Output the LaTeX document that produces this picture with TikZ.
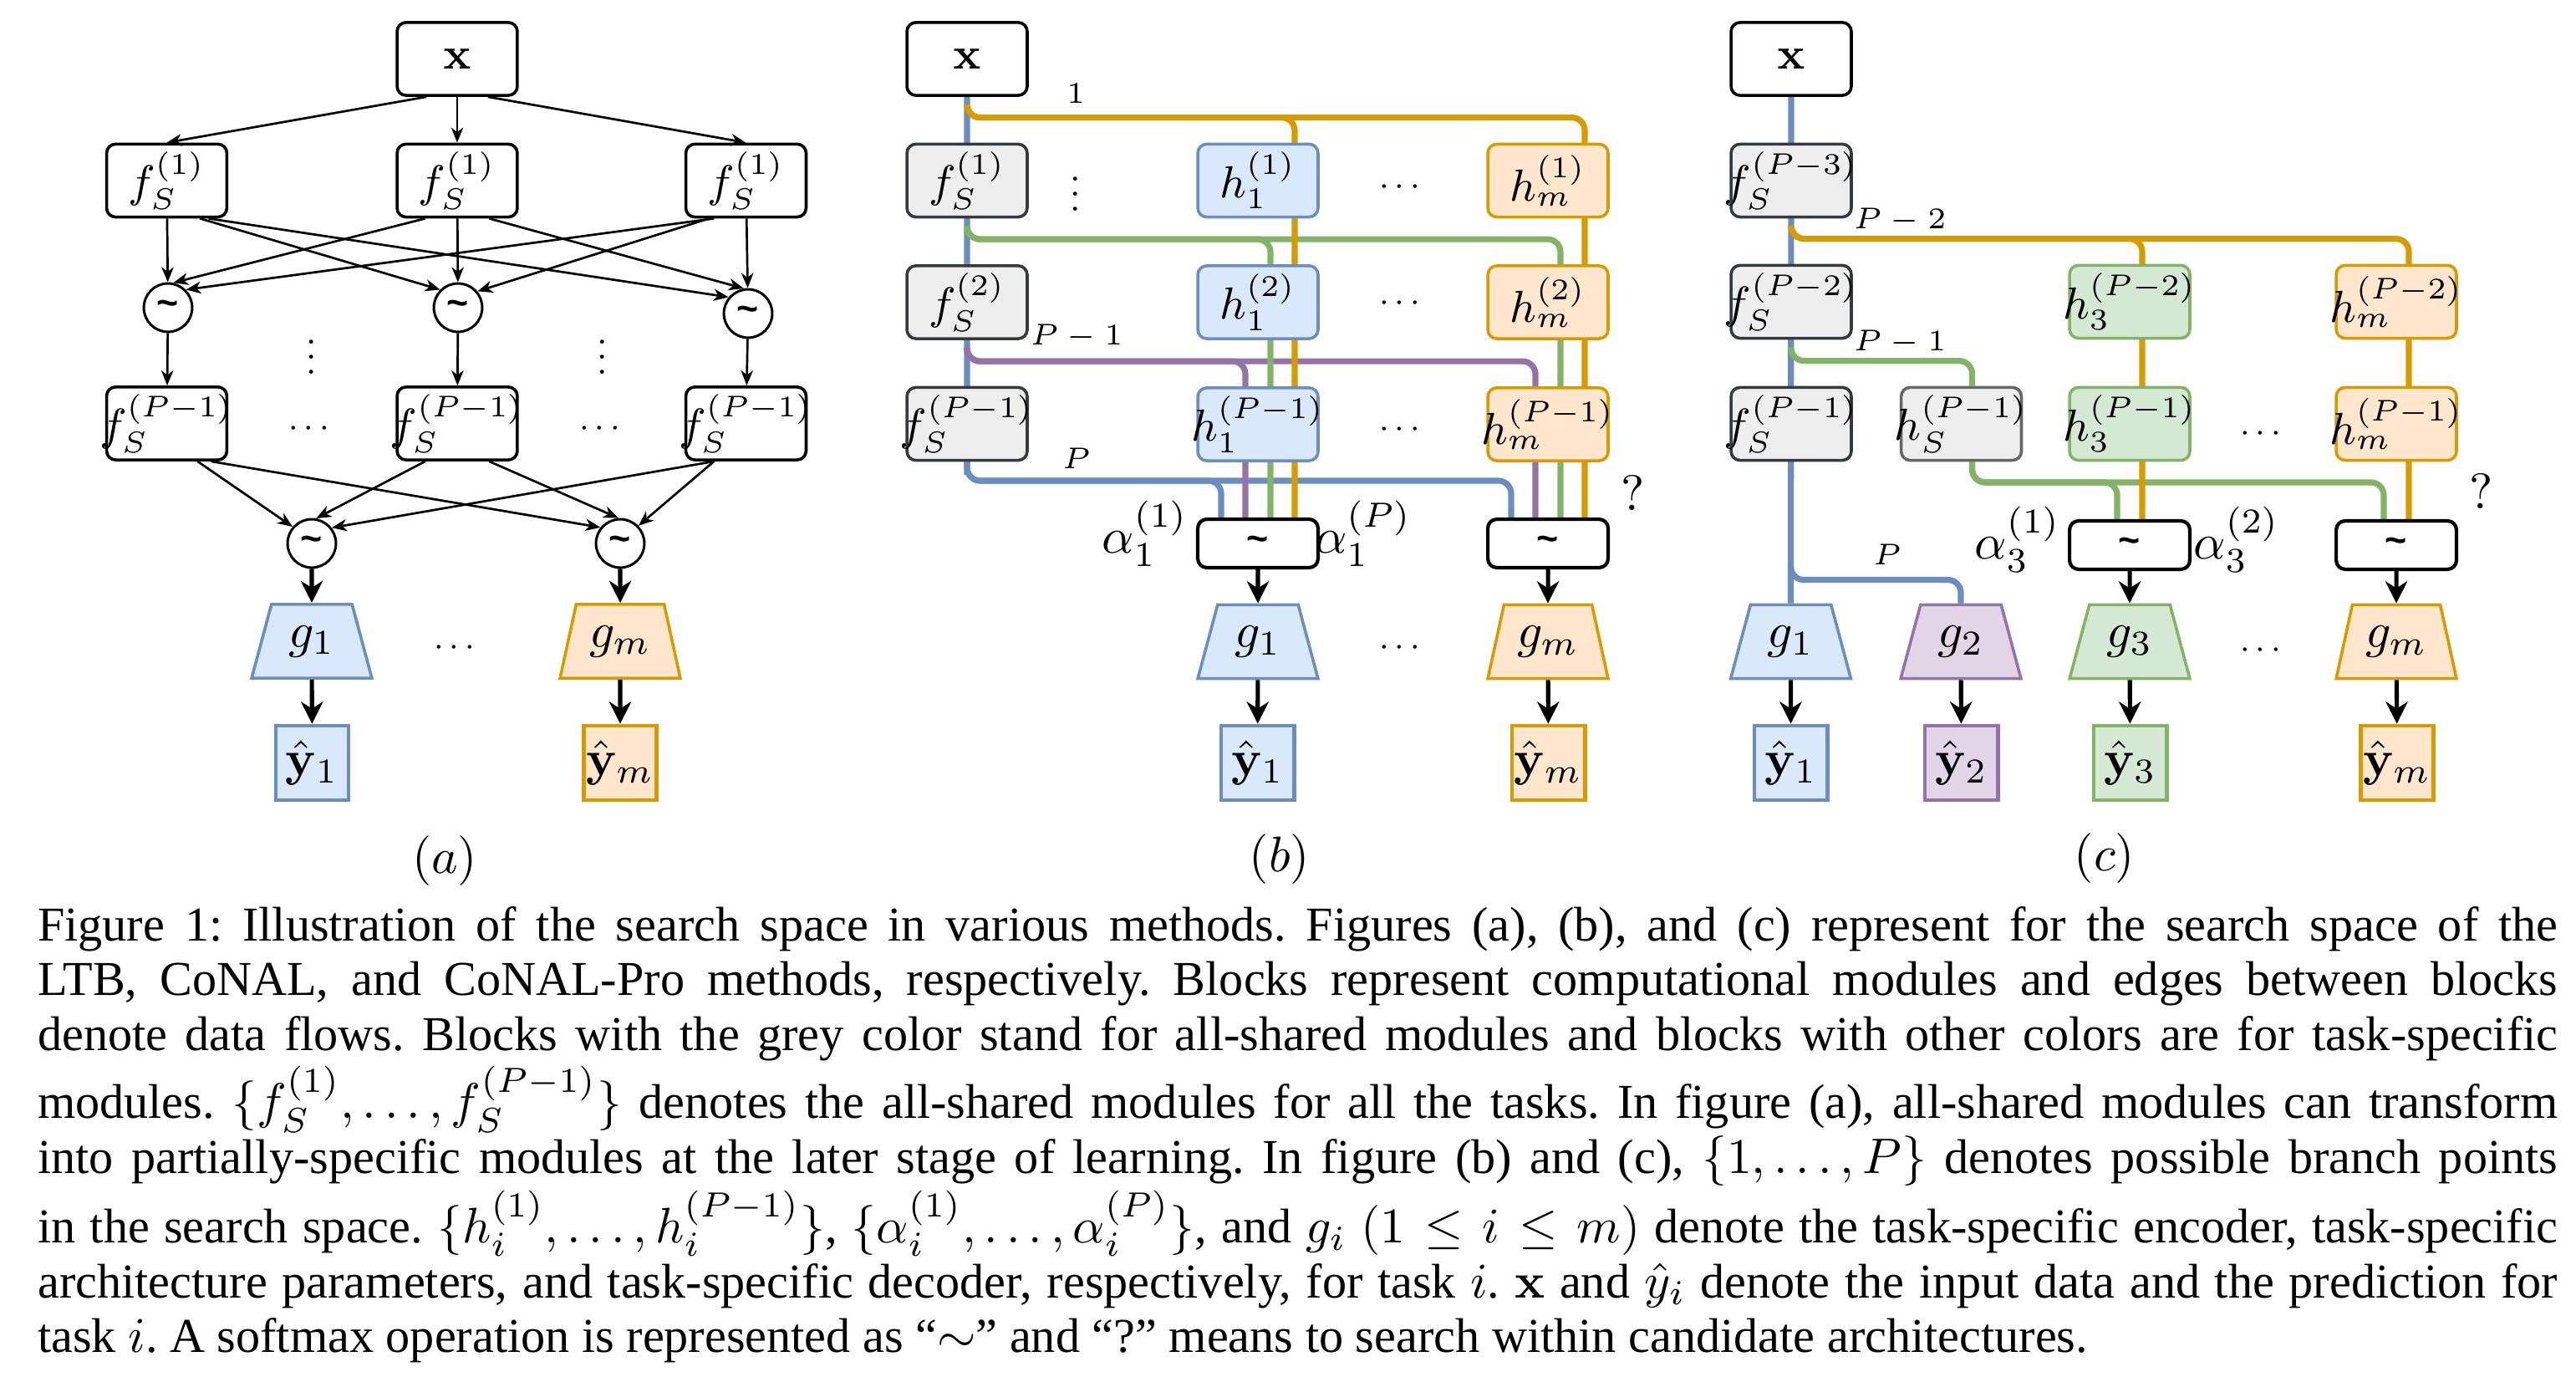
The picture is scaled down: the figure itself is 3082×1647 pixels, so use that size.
\documentclass[tikz,border=0pt]{standalone}
\usepackage[no-math]{fontspec}
\usepackage{amsmath,amssymb}
\usepackage{graphicx}
\usepackage{tikz}
\usetikzlibrary{arrows.meta,calc,backgrounds,shapes.geometric}
\newfontfamily\capfont[Ligatures=TeX]{Liberation Serif}
\newfontfamily\arialfont{Liberation Sans}
\definecolor{bluef}{HTML}{DAE8FC}
\definecolor{blued}{HTML}{6C8EBF}
\definecolor{orgf}{HTML}{FFE6CC}
\definecolor{orgd}{HTML}{D79B00}
\definecolor{grnf}{HTML}{D5E8D4}
\definecolor{grnd}{HTML}{82B366}
\definecolor{purf}{HTML}{E1D5E7}
\definecolor{purd}{HTML}{9673A6}
\definecolor{gryf}{HTML}{EEEEEE}
\definecolor{gryd}{HTML}{36393D}
\definecolor{gryl}{HTML}{666666}
\newcommand{\smxglyph}{{\arialfont\bfseries\fontsize{7.5}{8}\selectfont\textasciitilde}}
\newcommand{\vdt}{\scalebox{0.75}{$\vdots$}}
\newcommand{\hdt}{\scalebox{0.7}{$\cdots$}}
\newcommand{\boxlbl}[1]{\makebox[0pt]{$#1$}}

\begin{document}
\begin{tikzpicture}[
  x=0.1675pt, y=-0.1675pt,
  box/.style={draw,rounded corners=1.8pt,line width=0.6pt,minimum width=24.1pt,minimum height=14.6pt,inner sep=0pt,font=\fontsize{8.8}{10}\selectfont},
  plain/.style={box,fill=white},
  shared/.style={box,fill=gryf,draw=gryd},
  sharedl/.style={box,fill=gryf,draw=gryl},
  cblue/.style={fill=bluef,draw=blued},
  corg/.style={fill=orgf,draw=orgd},
  cgrn/.style={fill=grnf,draw=grnd},
  cpur/.style={fill=purf,draw=purd},
  sfm/.style={draw,rounded corners=1.8pt,line width=0.7pt,minimum width=24.1pt,minimum height=9.7pt,inner sep=0pt,fill=white},
  smc/.style={draw,circle,line width=0.5pt,minimum size=9.7pt,inner sep=0pt,fill=white},
  dec/.style={draw,trapezium,trapezium angle=70,trapezium stretches=true,minimum width=24.1pt,minimum height=14.8pt,inner sep=0pt,line width=0.6pt},
  outb/.style={draw,line width=0.8pt,minimum width=14.6pt,minimum height=14.9pt,inner sep=0pt},
  lbl/.style={inner sep=0pt,font=\fontsize{6.5}{7}\selectfont},
  bus/.style={line width=1.2pt,rounded corners=2.6pt},
  thn/.style={-{Stealth[length=3pt,width=2.4pt,inset=0.9pt]},line width=0.45pt},
  thk/.style={-{Stealth[length=4.4pt,width=4.4pt,inset=1.4pt]},line width=0.85pt},
]
\useasboundingbox (0,0) rectangle (3082,1647);

% (a)
\node[plain] (xa) at (547,70.5) {\boxlbl{\mathbf{x}}};
\node[plain] (fa1L) at (199.5,216) {\boxlbl{f_S^{(1)}}};
\node[plain] (fa1M) at (547,216) {\boxlbl{f_S^{(1)}}};
\node[plain] (fa1R) at (892.5,216) {\boxlbl{f_S^{(1)}}};
\node[smc] (ta1L) at (201,368) {\smxglyph};
\node[smc] (ta1M) at (548,368) {\smxglyph};
\node[smc] (ta1R) at (895,375) {\smxglyph};
\node[inner sep=0pt] (va1) at (373,414) {\vdt};
\node[inner sep=0pt] (va2) at (721,414) {\vdt};
\node[plain] (faPL) at (199.5,506.5) {\boxlbl{f_S^{(P-1)}}};
\node[plain] (faPM) at (547,506.5) {\boxlbl{f_S^{(P-1)}}};
\node[plain] (faPR) at (892.5,506.5) {\boxlbl{f_S^{(P-1)}}};
\node[inner sep=0pt] (da1) at (373,513) {\hdt};
\node[inner sep=0pt] (da2) at (721,513) {\hdt};
\node[smc] (ta2L) at (373,650) {\smxglyph};
\node[smc] (ta2R) at (742,650) {\smxglyph};
\node[dec,cblue] (ga1) at (373,767) {$g_1$};
\node[dec,corg] (gam) at (742,767) {$g_m$};
\node[inner sep=0pt] (da3) at (547,775) {\hdt};
\node[outb,cblue] (ya1) at (373.5,912.5) {$\hat{\mathbf{y}}_1$};
\node[outb,corg] (yam) at (742,912.5) {$\hat{\mathbf{y}}_m$};
\node (la) at (532,1030) {$(a)$};

\draw[thn] ($(xa.south west)!.25!(xa.south east)$) -- (fa1L.north);
\draw[thn] (xa) -- (fa1M);
\draw[thn] ($(xa.south west)!.75!(xa.south east)$) -- (fa1R.north);
\draw[thn] (fa1L) -- (ta1L);
\draw[thn] ($(fa1L.south west)!.77!(fa1L.south east)$) -- (ta1M.135);
\draw[thn] ($(fa1L.south west)!.84!(fa1L.south east)$) -- (ta1R.140);
\draw[thn] ($(fa1M.south west)!.24!(fa1M.south east)$) -- (ta1L.78);
\draw[thn] (fa1M) -- (ta1M);
\draw[thn] ($(fa1M.south west)!.76!(fa1M.south east)$) -- (ta1R.100);
\draw[thn] ($(fa1R.south west)!.24!(fa1R.south east)$) -- (ta1L.45);
\draw[thn] ($(fa1R.south west)!.2!(fa1R.south east)$) -- (ta1M.40);
\draw[thn] (fa1R) -- (ta1R);
\draw[thn] (ta1L) -- (faPL);
\draw[thn] (ta1M) -- (faPM);
\draw[thn] (ta1R) -- (faPR);
\draw[thn] ($(faPL.south west)!.75!(faPL.south east)$) -- (ta2L.139);
\draw[thn] ($(faPL.south west)!.86!(faPL.south east)$) -- (ta2R.141);
\draw[thn] ($(faPM.south west)!.24!(faPM.south east)$) -- (ta2L.80);
\draw[thn] ($(faPM.south west)!.76!(faPM.south east)$) -- (ta2R.94);
\draw[thn] ($(faPR.south west)!.24!(faPR.south east)$) -- (ta2L.38);
\draw[thn] ($(faPR.south west)!.24!(faPR.south east)$) -- (ta2R.44);
\draw[thk] (ta2L) -- (ga1);
\draw[thk] (ga1) -- (ya1);
\draw[thk] (ta2R) -- (gam);
\draw[thk] (gam) -- (yam);

% (b)
\node[plain] (xb) at (1157,70.5) {\boxlbl{\mathbf{x}}};
\node[shared] (fb1) at (1157,216) {\boxlbl{f_S^{(1)}}};
\node[shared] (fb2) at (1157,361.5) {\boxlbl{f_S^{(2)}}};
\node[shared] (fbP) at (1157,507) {\boxlbl{f_S^{(P-1)}}};
\node[inner sep=0pt] (vb) at (1287,219) {\vdt};
\node[box,cblue] (hb11) at (1505,216) {\boxlbl{h_1^{(1)}}};
\node[box,cblue] (hb12) at (1505,361.5) {\boxlbl{h_1^{(2)}}};
\node[box,cblue] (hb1P) at (1505,507.5) {\boxlbl{h_1^{(P-1)}}};
\node[inner sep=0pt] (db1) at (1678,224) {\hdt};
\node[inner sep=0pt] (db2) at (1678,363) {\hdt};
\node[inner sep=0pt] (db3) at (1678,514) {\hdt};
\node[box,corg] (hbm1) at (1852,216) {\boxlbl{h_m^{(1)}}};
\node[box,corg] (hbm2) at (1852,361.5) {\boxlbl{h_m^{(2)}}};
\node[box,corg] (hbmP) at (1852,507.5) {\boxlbl{h_m^{(P-1)}}};
\node[lbl] (lb1) at (1287,112) {$1$};
\node[lbl] (lb2) at (1288,403) {$P-1$};
\node[lbl] (lb3) at (1288,548) {$P$};
\node[sfm] (sb1) at (1505,650) {\smxglyph};
\node[sfm] (sbm) at (1852,650) {\smxglyph};
\node[inner sep=0pt] (ab1) at (1370,638) {$\alpha_1^{(1)}$};
\node[inner sep=0pt] (ab2) at (1631,638) {$\alpha_1^{(P)}$};
\node[inner sep=0pt] (qb) at (1954,590) {$?$};
\node[dec,cblue] (gb1) at (1505,767.5) {$g_1$};
\node[dec,corg] (gbm) at (1852,767.5) {$g_m$};
\node[inner sep=0pt] (db4) at (1678,775) {\hdt};
\node[outb,cblue] (yb1) at (1504.5,912.5) {$\hat{\mathbf{y}}_1$};
\node[outb,corg] (ybm) at (1852.5,912.5) {$\hat{\mathbf{y}}_m$};
\node (lb) at (1531,1028) {$(b)$};

\begin{scope}[on background layer]
\draw[bus,blued] (xb.south) -- (fbP.south) |- ($(sb1.north)+(-44,-44)$) -- ($(sb1.north)+(-44,0)$);
\draw[bus,blued] (fbP.south) |- ($(sbm.north)+(-44,-44)$) -- ($(sbm.north)+(-44,0)$);
\draw[bus,purd] ($(fb2.south)+(0,9)$) |- ($(hb1P.north)+(-15,-30)$) -- ($(sb1.north)+(-15,0)$);
\draw[bus,purd] ($(fb2.south)+(0,9)$) |- ($(hbmP.north)+(-15,-30)$) -- ($(sbm.north)+(-15,0)$);
\draw[bus,grnd] ($(fb1.south)+(0,9)$) |- ($(hb12.north)+(15,-30)$) -- ($(sb1.north)+(15,0)$);
\draw[bus,grnd] ($(fb1.south)+(0,9)$) |- ($(hbm2.north)+(15,-30)$) -- ($(sbm.north)+(15,0)$);
\draw[bus,orgd] ($(xb.south)+(0,9)$) |- ($(hb11.north)+(44,-30)$) -- ($(sb1.north)+(44,0)$);
\draw[bus,orgd] ($(xb.south)+(0,9)$) |- ($(hbm1.north)+(44,-30)$) -- ($(sbm.north)+(44,0)$);
\end{scope}
\draw[thk] (sb1) -- (gb1);
\draw[thk] (gb1) -- (yb1);
\draw[thk] (sbm) -- (gbm);
\draw[thk] (gbm) -- (ybm);

% (c)
\node[plain] (xc) at (2143,70.5) {\boxlbl{\mathbf{x}}};
\node[shared] (fc3) at (2143,216) {\boxlbl{f_S^{(P-3)}}};
\node[shared] (fc2) at (2143,361) {\boxlbl{f_S^{(P-2)}}};
\node[shared] (fc1) at (2143,507) {\boxlbl{f_S^{(P-1)}}};
\node[sharedl] (hcS) at (2346.5,507) {\boxlbl{h_S^{(P-1)}}};
\node[box,cgrn] (hc3a) at (2548,361) {\boxlbl{h_3^{(P-2)}}};
\node[box,cgrn] (hc3b) at (2548,507) {\boxlbl{h_3^{(P-1)}}};
\node[box,corg] (hcma) at (2867,361) {\boxlbl{h_m^{(P-2)}}};
\node[box,corg] (hcmb) at (2867,507) {\boxlbl{h_m^{(P-1)}}};
\node[inner sep=0pt] (dc1) at (2708,519) {\hdt};
\node[lbl] (lc1) at (2273,264) {$P-2$};
\node[lbl] (lc2) at (2273,410) {$P-1$};
\node[lbl] (lc3) at (2258,663) {$P$};
\node[inner sep=0pt] (qc) at (2969,588) {$?$};
\node[sfm] (sc3) at (2548,652) {\smxglyph};
\node[sfm] (scm) at (2867,652) {\smxglyph};
\node[inner sep=0pt] (ac1) at (2414,645) {$\alpha_3^{(1)}$};
\node[inner sep=0pt] (ac2) at (2676,645) {$\alpha_3^{(2)}$};
\node[dec,cblue] (gc1) at (2142.5,767.5) {$g_1$};
\node[dec,cpur] (gc2) at (2346,767.5) {$g_2$};
\node[dec,cgrn] (gc3) at (2548,767.5) {$g_3$};
\node[dec,corg] (gcm) at (2867,767.5) {$g_m$};
\node[inner sep=0pt] (dc2) at (2708,778) {\hdt};
\node[outb,cblue] (yc1) at (2142.5,912.5) {$\hat{\mathbf{y}}_1$};
\node[outb,cpur] (yc2) at (2346.5,912.5) {$\hat{\mathbf{y}}_2$};
\node[outb,cgrn] (yc3) at (2548.5,912.5) {$\hat{\mathbf{y}}_3$};
\node[outb,corg] (ycm) at (2868,912.5) {$\hat{\mathbf{y}}_m$};
\node (lc) at (2518,1027) {$(c)$};

\begin{scope}[on background layer]
\draw[bus,blued] (xc.south) -- (gc1.north);
\draw[bus,blued] ($(gc1.north)+(0,-50)$) |- ($(gc2.north)+(0,-28)$) -- (gc2.north);
\draw[bus,grnd] ($(fc2.south)+(0,9)$) |- ($(hcS.north)+(13,-30)$) -- ($(hcS.north)+(13,0)$);
\draw[bus,grnd] ($(hcS.south)+(13,0)$) |- ($(sc3.north)+(-15,-44)$) -- ($(sc3.north)+(-15,0)$);
\draw[bus,grnd] ($(hcS.south)+(13,0)$) |- ($(scm.north)+(-15,-44)$) -- ($(scm.north)+(-15,0)$);
\draw[bus,orgd] ($(fc3.south)+(0,9)$) |- ($(hc3a.north)+(15,-30)$) -- ($(sc3.north)+(15,0)$);
\draw[bus,orgd] ($(fc3.south)+(0,9)$) |- ($(hcma.north)+(15,-30)$) -- ($(scm.north)+(15,0)$);
\end{scope}
\draw[thk] (sc3) -- (gc3);
\draw[thk] (scm) -- (gcm);
\draw[thk] (gc1) -- (yc1);
\draw[thk] (gc2) -- (yc2);
\draw[thk] (gc3) -- (yc3);
\draw[thk] (gcm) -- (ycm);

\node[anchor=north west,inner sep=0pt,text width=505pt,align=justify,font=\capfont\fontsize{9.75}{11}\selectfont] (cap) at (44,1083) {%
\frenchspacing\hyphenpenalty=10000\relax\tolerance=10000\relax
Figure 1: Illustration of the search space in various methods. Figures (a), (b), and (c) represent for the search space of the\linebreak
LTB, CoNAL, and CoNAL-Pro methods, respectively. Blocks represent computational modules and edges between blocks\linebreak
denote data flows. Blocks with the grey color stand for all-shared modules and blocks with other colors are for task-specific\linebreak
modules. $\{f_S^{(1)},\ldots,f_S^{(P-1)}\}$ denotes the all-shared modules for all the tasks. In figure (a), all-shared modules can transform\linebreak
into partially-specific modules at the later stage of learning. In figure (b) and (c), $\{1,\ldots,P\}$ denotes possible branch points\linebreak
in the search space. $\{h_i^{(1)},\ldots,h_i^{(P-1)}\}$, $\{\alpha_i^{(1)},\ldots,\alpha_i^{(P)}\}$, and $g_i$ $(1\leq i\leq m)$ denote the task-specific encoder, task-specific\linebreak
architecture parameters, and task-specific decoder, respectively, for task $i$. $\mathbf{x}$ and $\hat{y}_i$ denote the input data and the prediction for\linebreak
task $i$. A softmax operation is represented as “$\sim$” and “?” means to search within candidate architectures.};
\end{tikzpicture}
\end{document}
